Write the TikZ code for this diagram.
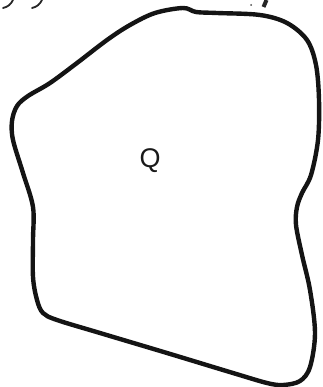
\documentclass[tikz,border=0pt]{standalone}
\usepackage{fontspec}
\setmainfont{Liberation Sans}
\begin{document}
\begin{tikzpicture}[x=1pt,y=-1pt,
  outline/.style={line width=4.4pt, draw=black!92, line join=round},
  frag/.style={line width=1.8pt, draw=black!85, line cap=round}]
\useasboundingbox (0,0) rectangle (322,387);
\draw[outline] plot[smooth cycle, tension=0.55] coordinates {
 (183,8) (196,12) (217,13) (260,15) (287,23) (307,40) (316,65) (319,100)
 (318,140) (311,175) (302,193) (297,207) (296,225) (302,255) (310,290)
 (315,333) (310,367) (300,381) (283,385) (267,383) (233,373) (167,353)
 (100,333) (57,320) (43,313) (37,300) (33,277) (33,240) (33,207) (23,173)
 (13,140) (12,121) (17,106) (28,96) (50,83) (77,63) (107,40) (130,25) (155,13)};
\node[font=\fontsize{27}{27}\selectfont, text=black!90] (q) at (150,161) {Q};
% cropped text fragments at the top edge
\draw[frag] (3,8) .. controls (8,7) and (11,4) .. (13,0);
\draw[frag] (32,8) .. controls (37,7) and (40,4) .. (42,0);
\draw[line width=4pt, draw=black!85] (263.5,7) -- (266.5,0);
\fill[black!70] (251,5) circle (1pt);
\end{tikzpicture}
\end{document}
